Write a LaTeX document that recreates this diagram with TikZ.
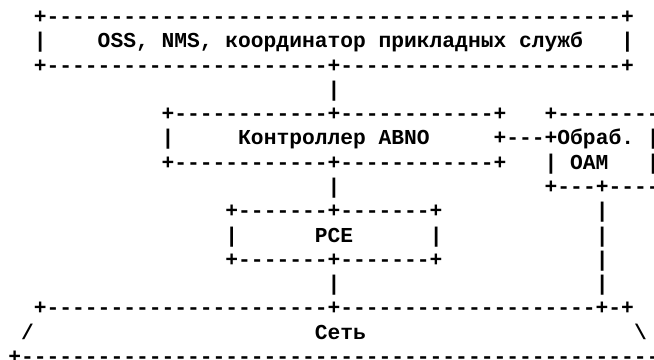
\documentclass[tikz,border=0pt]{standalone}
\usepackage{fontspec}
\setmonofont{Liberation Mono}
\tikzset{
  txtline/.style={anchor=base west, inner sep=0pt, outer sep=0pt,
    font=\ttfamily\bfseries\fontsize{21.28pt}{24.29pt}\selectfont}
}
\begin{document}
\begin{tikzpicture}[x=12.77pt,y=-24.29pt]
\useasboundingbox (0.345,-0.967) rectangle (51.56,13.85);
% OSS box
\node[txtline] (row0) at (3,0) {+---------------------------------------------+};
\node[txtline] (row1) at (3,1) {|~~~~OSS,~NMS,~координатор~прикладных~служб~~~|};
\node[txtline] (row2) at (3,2) {+----------------------+----------------------+};
\node[txtline] (row3) at (26,3) {|};
% ABNO controller and OAM handler
\node[txtline] (row4) at (13,4) {+------------+------------+~~~+--------};
\node[txtline] (row5) at (13,5) {|~~~~~Контроллер~ABNO~~~~~+---+Обраб.~|};
\node[txtline] (row6) at (13,6) {+------------+------------+~~~|~OAM~~~|};
\node[txtline] (row7) at (26,7) {|~~~~~~~~~~~~~~~~+---+----};
% PCE
\node[txtline] (row8) at (18,8) {+-------+-------+~~~~~~~~~~~~|};
\node[txtline] (row9) at (18,9) {|~~~~~~PCE~~~~~~|~~~~~~~~~~~~|};
\node[txtline] (row10) at (18,10) {+-------+-------+~~~~~~~~~~~~|};
\node[txtline] (row11) at (26,11) {|~~~~~~~~~~~~~~~~~~~~|};
% network
\node[txtline] (row12) at (3,12) {+----------------------+--------------------+-+};
\node[txtline] (row13) at (2,13) {/~~~~~~~~~~~~~~~~~~~~~~Сеть~~~~~~~~~~~~~~~~~~~~~\textbackslash};
\node[txtline] (row14) at (1,14) {+----------------------------------------------------};
\end{tikzpicture}
\end{document}
